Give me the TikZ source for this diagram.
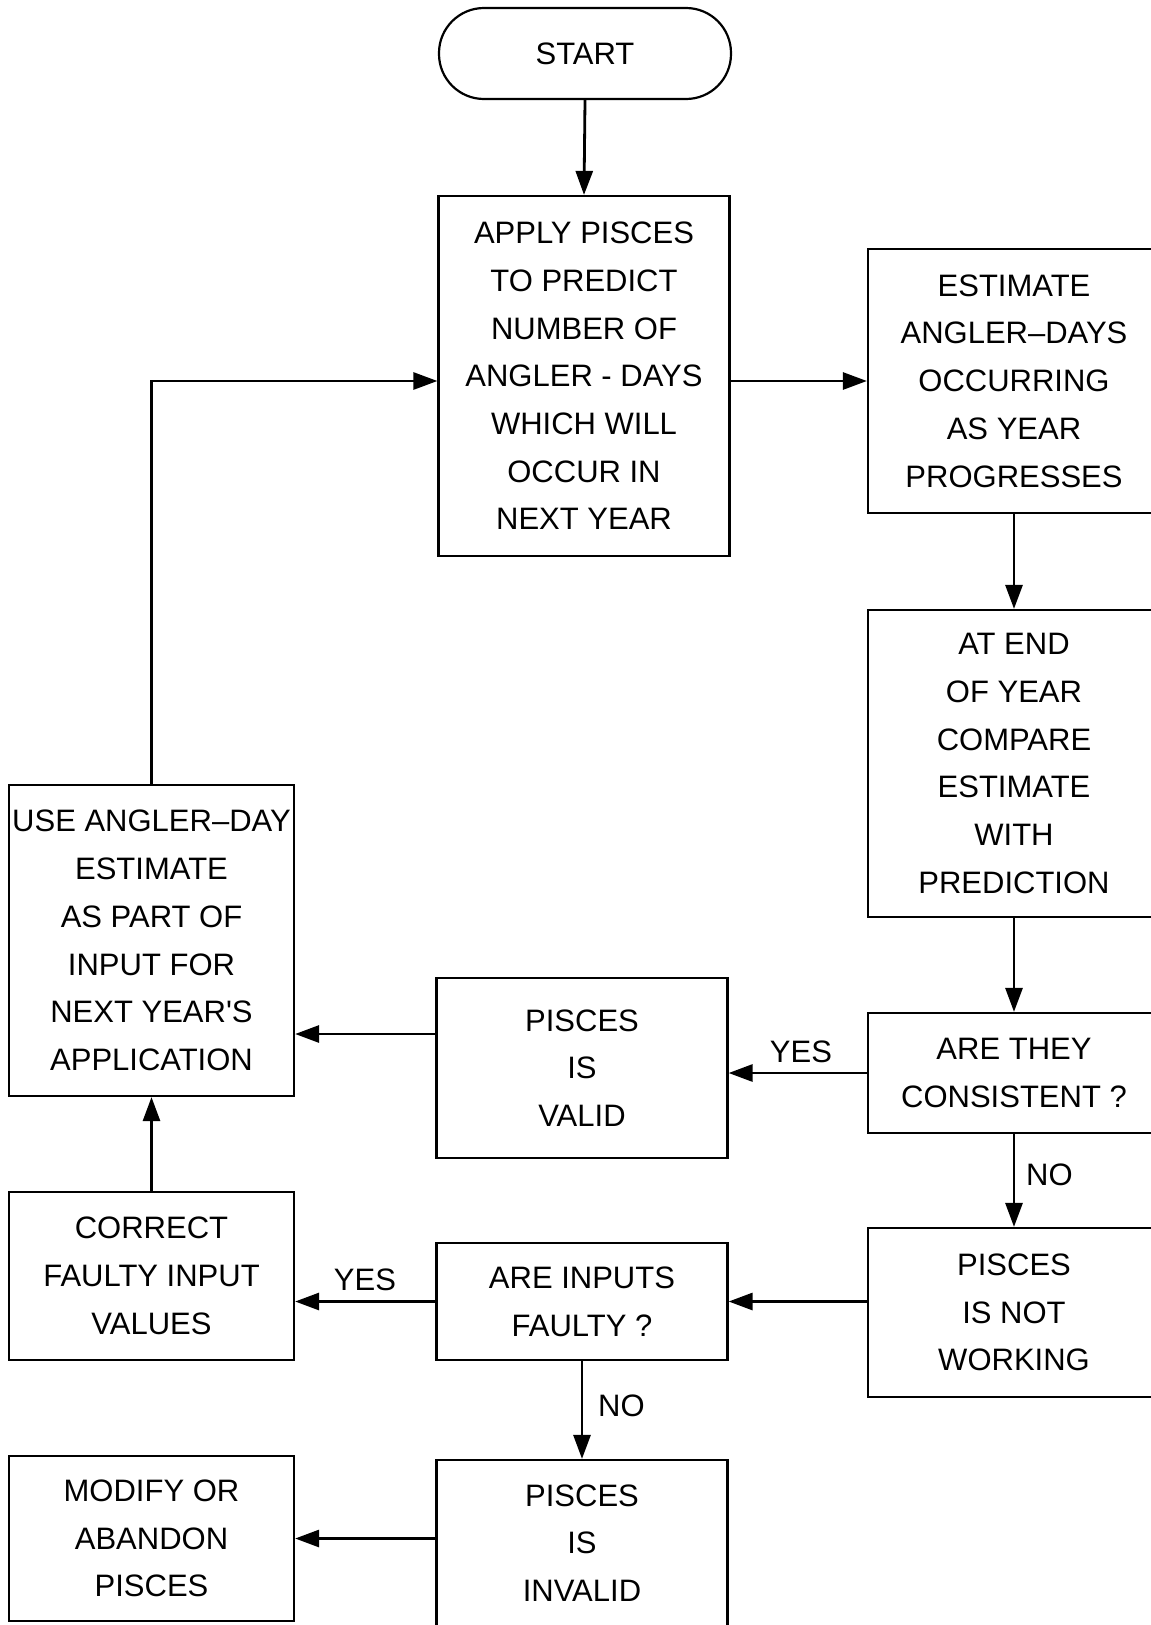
\documentclass[tikz,border=0pt]{standalone}
\usepackage{fontspec}
\setmainfont{Liberation Sans}
\usetikzlibrary{positioning,arrows.meta,calc}

\begin{document}
\begin{tikzpicture}[
  x=1pt, y=-1pt,
  font=\fontsize{31}{47.7}\selectfont,
  >={Triangle[length=24pt,width=17pt]},
  box/.style={draw, line width=2.2pt, inner sep=0pt, align=center},
  midbox/.style={box, minimum width=291pt},
  leftbox/.style={box, minimum width=285pt},
  rightbox/.style={box, minimum width=292pt},
  link/.style={->, line width=2.8pt},
  lbl/.style={inner sep=0pt},
]
\useasboundingbox (0,0) rectangle (1151,1625);
\clip (0,0) rectangle (1151,1625);

% Start
\node[box, rounded corners=45pt, minimum width=292pt, minimum height=91pt] (start) at (585,53.5) {START};

% Middle column
\node[midbox, minimum height=360pt] (apply) at (584,376) {APPLY PISCES\\TO PREDICT\\NUMBER OF\\ANGLER - DAYS\\WHICH WILL\\OCCUR IN\\NEXT YEAR};
\node[midbox, minimum height=180pt] (valid) at (582,1068) {PISCES\\IS\\VALID};
\node[midbox, minimum height=117pt] (inputs) at (582,1301.5) {ARE INPUTS\\FAULTY ?};
\node[midbox, minimum height=166pt] (invalid) at (582,1543) {PISCES\\IS\\INVALID};

% Right column
\node[rightbox, minimum height=264pt] (estimate) at (1014,381) {ESTIMATE\\ANGLER--DAYS\\OCCURRING\\AS YEAR\\PROGRESSES};
\node[rightbox, minimum height=307pt] (compare) at (1014,763.5) {AT END\\OF YEAR\\COMPARE\\ESTIMATE\\WITH\\PREDICTION};
\node[rightbox, minimum height=120pt] (arethey) at (1014,1073) {ARE THEY\\CONSISTENT ?};
\node[rightbox, minimum height=169pt] (notwork) at (1014,1312.5) {PISCES\\IS NOT\\WORKING};

% Left column
\node[leftbox, minimum height=311pt] (use) at (151.5,940.5) {USE ANGLER--DAY\\ESTIMATE\\AS PART OF\\INPUT FOR\\NEXT YEAR\textquotesingle S\\APPLICATION};
\node[leftbox, minimum height=168pt] (correct) at (151.5,1276) {CORRECT\\FAULTY INPUT\\VALUES};
\node[leftbox, minimum height=165pt] (modify) at (151.5,1538.5) {MODIFY OR\\ABANDON\\PISCES};

% Connectors
\coordinate (vu) at (436,1034);
\draw[link] (start.south) -- (apply.north);
\draw[link] (apply.east |- estimate.west) -- (estimate.west);
\draw[link] (estimate.south) -- (compare.north);
\draw[link] (compare.south) -- (arethey.north);
\draw[link] (arethey.west) -- (valid.east |- arethey.west);
\draw[link] (arethey.south) -- (notwork.north);
\draw[link] (notwork.west |- inputs.east) -- (inputs.east);
\draw[link] (inputs.west) -- (correct.east |- inputs.west);
\draw[link] (inputs.south) -- (invalid.north);
\draw[link] (invalid.west |- modify.east) -- (modify.east);
\draw[link] (valid.west |- vu) -- (use.east |- vu);
\draw[link] (correct.north) -- (use.south);
\draw[link] (use.north) |- (apply.west |- estimate.west);

% Branch labels
\node[lbl] (yes1) at (801,1052) {YES};
\node[lbl, anchor=west] (no1) at (1026,1175) {NO};
\node[lbl] (yes2) at (365,1280) {YES};
\node[lbl, anchor=west] (no2) at (598,1406) {NO};

\end{tikzpicture}
\end{document}
